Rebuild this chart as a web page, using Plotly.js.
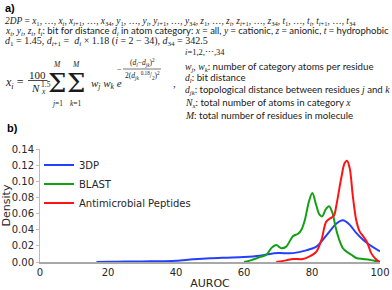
<!DOCTYPE html>
<html><head><meta charset="utf-8">
<script src="https://cdn.plot.ly/plotly-3.0.1.min.js"></script>
<style>html,body{margin:0;padding:0;background:#fff}#chart{width:392px;height:290px}</style>
</head><body><div id="chart"></div>
<script>
// ---- data ----
const seriesNames = ["3DP", "BLAST", "Antimicrobial Peptides"];
const seriesColors = ["#2440ff", "#14a014", "#ff1414"];

const auroc3DP   = [16.6, 20, 25, 30, 35, 40, 45, 50, 55, 60, 64.6, 67, 70, 74.4, 78.3, 81.3, 83.2, 85.2, 87, 89.1, 91.1, 93, 95, 96.9, 100];
const density3DP = [0, 0.0003, 0.0005, 0.0007, 0.001, 0.0017, 0.0033, 0.0046, 0.0054, 0.0062, 0.0078, 0.0095, 0.011, 0.011, 0.0144, 0.019, 0.0276, 0.038, 0.047, 0.0516, 0.046, 0.036, 0.0276, 0.0214, 0.0131];

const aurocBLAST   = [60, 62, 64.6, 66.6, 68.1, 69.5, 71, 72.4, 74.4, 75.9, 76.9, 77.9, 79.1, 80.1, 81.2, 82.2, 83.0, 84.0, 85.0, 86.0, 87.0, 88.0, 89.1, 90.1, 91.6, 93, 95, 96.9, 98.9, 100];
const densityBLAST = [0, 0.002, 0.006, 0.009, 0.0175, 0.021, 0.017, 0.019, 0.032, 0.035, 0.04, 0.052, 0.075, 0.0855, 0.071, 0.0586, 0.0565, 0.065, 0.069, 0.061, 0.042, 0.0276, 0.017, 0.013, 0.009, 0.005, 0.0037, 0.0028, 0.001, 0];

const aurocAMP   = [69.5, 72.4, 74.4, 77.3, 79.3, 81.3, 82.8, 84.2, 85.7, 86.5, 87.2, 88.6, 89.6, 90.3, 91.1, 92.0, 93.0, 94.0, 95.0, 96.0, 96.7, 97.4, 98.9, 100];
const densityAMP = [0, 0.002, 0.0037, 0.0037, 0.007, 0.013, 0.0277, 0.05, 0.055, 0.058, 0.071, 0.104, 0.1227, 0.1255, 0.116, 0.082, 0.052, 0.038, 0.032, 0.026, 0.019, 0.011, 0.003, 0];

const xTicks = [0, 20, 40, 60, 80, 100];
const yTicks = [0, 0.02, 0.04, 0.06, 0.08, 0.10, 0.12, 0.14];
const xTickText = ["0", "20", "40", "60", "80", "100"];
const yTickText = ["0.00", "0.02", "0.04", "0.06", "0.08", "0.10", "0.12", "0.14"];

// ---- layout helpers (pixel -> paper) ----
const L = 40, R = 12, T = 149, B = 28, W = 392, H = 290;
const PW = W - L - R, PH = H - T - B;
const px = x => (x - L) / PW;
const py = y => (H - B - y) / PH;

const SERIF = "Liberation Serif";
const SANS = "Lato";
const INK = "#1a1a1a";
const ser = s => `<span style="font-family:'${SERIF}'">${s}</span>`;

function ann(text, x, y, size, opts) {
  return Object.assign({
    text: text, xref: "paper", yref: "paper", x: px(x), y: py(y),
    xanchor: "left", yanchor: "middle", showarrow: false,
    font: {family: SANS, size: size, color: INK}
  }, opts || {});
}
function sann(text, x, y, size, anchor) {
  return ann(text, x, y, size, {xanchor: anchor || "left", font: {family: SERIF, size: size, color: INK}});
}
function seq(v) {
  return `<i>${v}</i><sub>1</sub>, …, <i>${v}<sub>i</sub></i>, <i>${v}</i><sub><i>i</i>+1</sub>, …, <i>${v}</i><sub>34</sub>`;
}
const SIGMA = "\u03A3";

const annotations = [
  ann("<b>a)</b>", 3, 8, 11, {font: {family: "Liberation Sans", size: 11, color: "#000"}}),
  sann(`<i>2DP</i> = ${seq("x")}, ${seq("y")}, ${seq("z")}, ${seq("t")}`, 3, 21, 9.4),
  ann(`${ser("<i>x<sub>i</sub></i>, <i>y<sub>i</sub></i>, <i>z<sub>i</sub></i>, <i>t<sub>i</sub></i>")}: bit for distance ${ser("<i>d<sub>i</sub></i>")} in atom category: ${ser("<i>x</i> =")} all, ${ser("<i>y</i> =")} cationic, ${ser("<i>z</i> =")} anionic, ${ser("<i>t</i> =")} hydrophobic`, 3, 31, 9.5),
  sann(`<i>d</i><sub>1</sub> = 1.45, <i>d</i><sub><i>i</i>+1</sub> =  <i>d<sub>i</sub></i> × 1.18 (<i>i</i> = 2 − 34), <i>d</i><sub>34</sub> = 342.5`, 3, 41, 10),
  // main formula
  sann(`<i>x<sub>i</sub></i> =`, 3, 83, 12),
  sann("100", 37.5, 75, 11, "center"),
  sann("<i>N</i>", 29, 88, 11),
  sann("1.5", 38.5, 84, 7.5),
  sann("<i>x</i>", 38.5, 91, 7.5),
  {text: SIGMA, xref: "paper", yref: "paper", x: px(57), y: py(83), xanchor: "center", yanchor: "middle",
   showarrow: false, font: {family: "DejaVu Serif", size: 26, color: INK}},
  {text: SIGMA, xref: "paper", yref: "paper", x: px(76), y: py(83), xanchor: "center", yanchor: "middle",
   showarrow: false, font: {family: "DejaVu Serif", size: 26, color: INK}},
  sann("<i>M</i>", 57, 64, 7.5, "center"),
  sann("<i>M</i>", 76, 64, 7.5, "center"),
  sann("<i>j</i>=1", 57, 103, 7.5, "center"),
  sann("<i>k</i>=1", 76, 103, 7.5, "center"),
  sann("<i>w<sub>j</sub></i> <i>w<sub>k</sub></i> <i>e</i>", 89, 84, 11),
  sann("−", 115, 69, 8),
  sann("(<i>d<sub>l</sub></i>−<i>d<sub>jk</sub></i>)<sup>2</sup>", 142, 63, 7.5, "center"),
  sann("2(<i>d<sub>jk</sub></i> <sup>0.18</sup>/<sub>2</sub>)<sup>2</sup>", 142, 75.5, 7.5, "center"),
  sann(",", 171, 83, 11),
  // right column
  sann("<i>i</i>=1,2,⋯,34", 183, 52, 8.5),
  ann(`${ser("<i>w<sub>j</sub></i>, <i>w<sub>k</sub></i>")}: number of category atoms per residue`, 183, 66, 9.7),
  ann(`${ser("<i>d<sub>l</sub></i>")}: bit distance`, 183, 77.5, 9.7),
  ann(`${ser("<i>d<sub>jk</sub></i>")}: topological distance between residues ${ser("<i>j</i>")} and ${ser("<i>k</i>")}`, 183, 89.5, 9.6),
  ann(`${ser("<i>N<sub>x</sub></i>")}: total number of atoms in category ${ser("<i>x</i>")}`, 183, 102, 9.7),
  ann(`${ser("<i>M</i>")}: total number of residues in molecule`, 183, 115, 9.7),
  ann("<b>b)</b>", 5, 128, 11, {font: {family: "Liberation Sans", size: 11, color: "#000"}})
];

const shapes = [
  {type: "line", xref: "paper", yref: "paper", x0: px(28), x1: px(47.5), y0: py(80.5), y1: py(80.5), line: {color: INK, width: 0.8}},
  {type: "line", xref: "paper", yref: "paper", x0: px(123), x1: px(161), y0: py(69), y1: py(69), line: {color: INK, width: 0.6}}
];

const xs = [auroc3DP, aurocBLAST, aurocAMP];
const ys = [density3DP, densityBLAST, densityAMP];
const traces = seriesNames.map((n, i) => ({
  type: "scatter", mode: "lines", name: n, x: xs[i], y: ys[i],
  line: {color: seriesColors[i], width: 2, shape: "spline", smoothing: 0.9},
  hoverinfo: "skip"
}));

const layout = {
  width: W, height: H,
  margin: {l: L, r: R, t: T, b: B, pad: 0},
  paper_bgcolor: "#fff", plot_bgcolor: "#fff",
  font: {family: "DejaVu Sans", size: 10, color: "#262626"},
  showlegend: true,
  legend: {x: px(39), y: py(150.5), xanchor: "left", yanchor: "top", bgcolor: "rgba(0,0,0,0)",
           font: {family: "DejaVu Sans", size: 10, color: "#262626"}, itemwidth: 30},
  xaxis: {range: [0, 100], tickvals: xTicks, ticktext: xTickText, showgrid: false, zeroline: false,
          showline: true, linecolor: "#a8a8a8", linewidth: 2, ticks: "", ticklen: 0,
          tickfont: {family: "DejaVu Sans", size: 10, color: "#262626"},
          title: {text: "AUROC", font: {family: "DejaVu Sans", size: 11, color: "#262626"}, standoff: 4}},
  yaxis: {range: [0, 0.14], tickvals: yTicks, ticktext: yTickText, showgrid: false, zeroline: false,
          showline: true, linecolor: "#bdbdbd", linewidth: 1, ticks: "outside", ticklen: 3, tickcolor: "#bdbdbd",
          tickfont: {family: "DejaVu Sans", size: 10, color: "#262626"},
          title: {text: "Density", font: {family: "DejaVu Sans", size: 11, color: "#262626"}, standoff: 2}},
  annotations: annotations,
  shapes: shapes
};

Plotly.newPlot("chart", traces, layout, {displayModeBar: false, staticPlot: true});
</script></body></html>
